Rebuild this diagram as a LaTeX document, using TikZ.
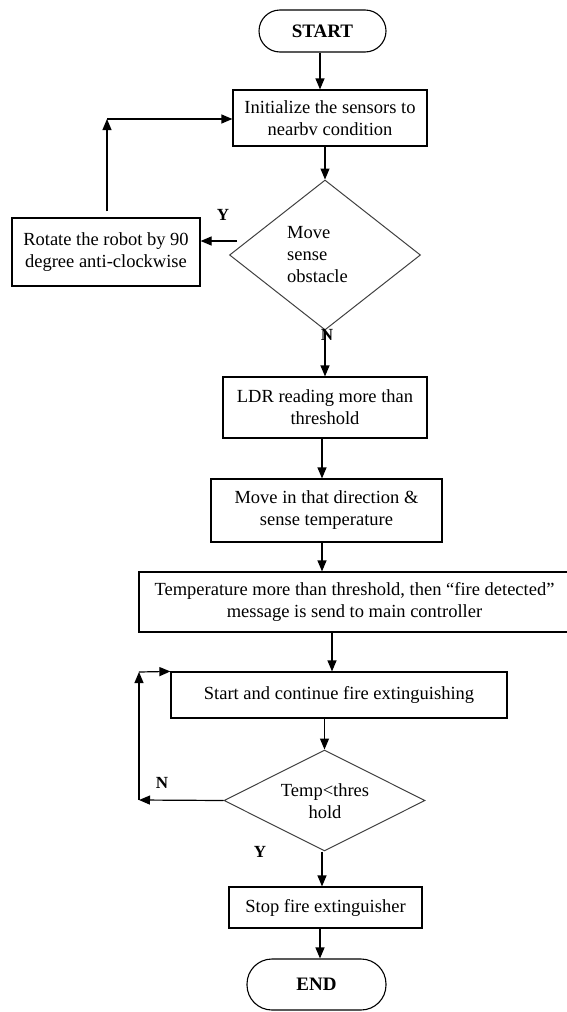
\documentclass[tikz,border=0pt]{standalone}
\usepackage{fontspec}
\setmainfont{Liberation Serif}
\usetikzlibrary{shapes.geometric,arrows.meta}
\begin{document}
\begin{tikzpicture}[x=1pt,y=-1pt,
  every node/.style={font=\fontsize{18.5}{22}\selectfont},
  box/.style={draw, line width=1.2pt, rectangle, inner sep=0pt, align=center},
  term/.style={draw, line width=1.1pt, rectangle, inner sep=0pt, font=\fontsize{19}{22}\selectfont\bfseries},
  dec/.style={draw=black!75, line width=1pt, diamond, inner sep=0pt},
  lbl/.style={font=\fontsize{17}{20}\selectfont\bfseries, inner sep=0pt},
  arr/.style={line width=1.2pt, -{Triangle[length=11pt,width=9pt]}},
  ln/.style={line width=1.2pt}]
\useasboundingbox (0,0) rectangle (566,1012);
% nodes
\node[term, rounded corners=21pt, minimum width=127pt, minimum height=42pt] (start) at (322.5,31) {START};
\node[box, minimum width=194pt, minimum height=56pt] (init) at (330,118) {Initialize the sensors to\\nearbv condition};
\node[dec, minimum width=191pt, minimum height=150pt] (d1) at (325,255) {};
\node[align=left, anchor=west, inner sep=0pt] (d1t) at (287,255) {Move\\sense\\obstacle};
\node[box, minimum width=188pt, minimum height=68pt] (rot) at (106,252) {Rotate the robot by 90\\degree anti-clockwise};
\node[lbl] (y1) at (223,215) {Y};
\node[box, minimum width=204pt, minimum height=61pt] (ldr) at (325,407.5) {LDR reading more than\\threshold};
\node[box, minimum width=231pt, minimum height=63pt] (move) at (326.5,510.5) {Move in that direction \&\\sense temperature};
\node[box, minimum width=431pt, minimum height=60pt] (temp) at (354.5,602) {Temperature more than threshold, then “fire detected”\\message is send to main controller};
\node[box, minimum width=336pt, minimum height=46pt] (cont) at (339,695) {Start and continue fire extinguishing};
\node[dec, minimum width=201pt, minimum height=101pt] (d2) at (324.5,800.5) {};
\node[align=center, inner sep=0pt] (d2t) at (325,801) {Temp<thres\\hold};
\node[lbl] (n2) at (162,783) {N};
\node[lbl] (y2) at (260,852) {Y};
\node[box, minimum width=193pt, minimum height=41pt] (stop) at (325.5,907.5) {Stop fire extinguisher};
\node[term, rounded corners=25pt, minimum width=139pt, minimum height=51pt] (end) at (316.5,984.5) {END};
% coordinates
\coordinate (d1y) at (237,241);
\coordinate (c1) at (107,119);
\coordinate (c2) at (139,800);
\coordinate (c3) at (139,672);
% connectors
\draw[arr] ([xshift=-2.5pt]start.south) -- ([xshift=-10pt]init.north);
\draw[arr] ([xshift=-5pt]init.south) -- (d1.north);
\draw[arr] (d1.south) -- (ldr.north);
\draw[arr] ([xshift=-3pt]ldr.south) -- ([xshift=-4.5pt]move.north);
\draw[arr] ([xshift=-4.5pt]move.south) -- ([xshift=-32.5pt]temp.north);
\draw[arr] ([xshift=-22.5pt]temp.south) -- ([xshift=-7pt]cont.north);
\draw[arr] ([xshift=-14.5pt]cont.south) -- (d2.north);
\draw[arr] ([xshift=-2.5pt]d2.south) -- ([xshift=-3.5pt]stop.north);
\draw[arr] ([xshift=-5.5pt]stop.south) -- ([xshift=3.5pt]end.north);
\draw[arr] (d1y) -- (d1y -| rot.east);
\draw[arr] ([xshift=1pt,yshift=6pt]rot.north) -- (c1);
\draw[arr] (c1) -- (init.west |- c1);
\draw[arr] (d2.west) -- (c2);
\draw[arr] (c2) -- (c3);
\draw[arr] (c3) -- (cont.north west);
\node[lbl] (n1) at (327,335) {N};
\end{tikzpicture}
\end{document}
